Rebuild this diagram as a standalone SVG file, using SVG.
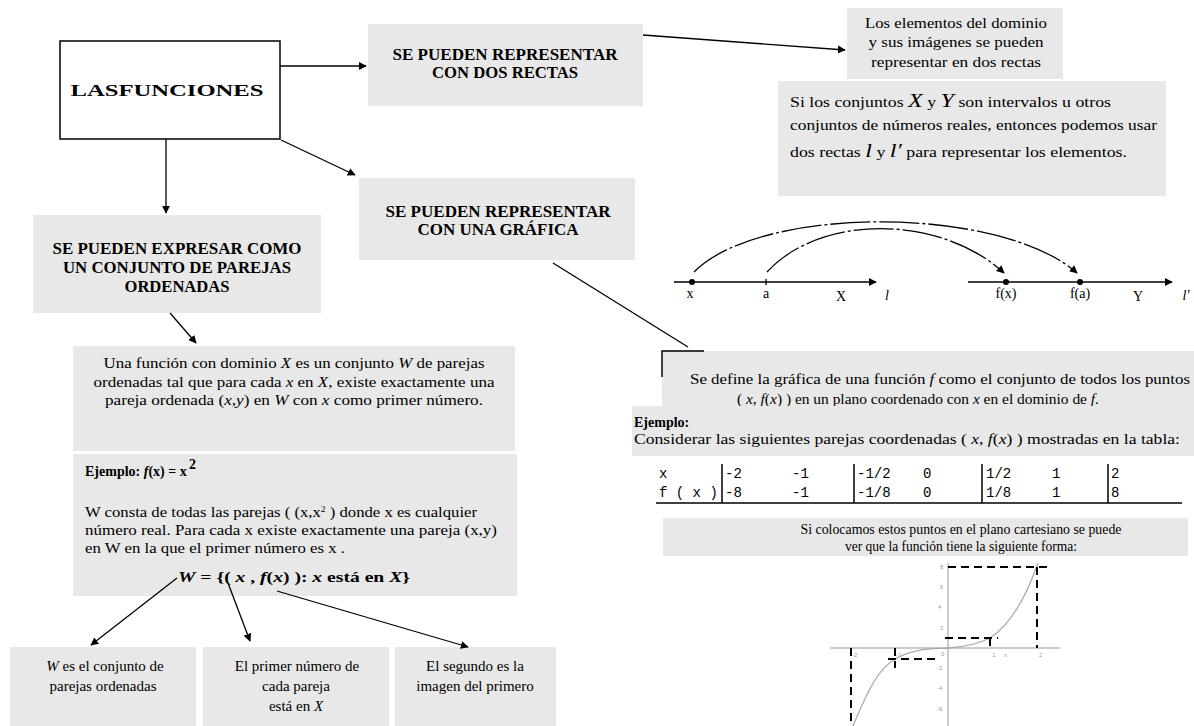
<svg xmlns="http://www.w3.org/2000/svg" width="1194" height="726" viewBox="0 0 1194 726">
<defs>
<style>
.box{fill:#e8e8e8}
.h{font-family:"Liberation Serif",serif;font-weight:bold;font-size:16px;fill:#000}
.t{font-family:"Liberation Serif",serif;font-size:14px;fill:#000}
.b{font-family:"Liberation Serif",serif;font-size:15px;fill:#000}
.m{font-family:"Liberation Mono",monospace;font-size:14px;fill:#000}
.g{font-family:"Liberation Sans",sans-serif;font-size:6px;fill:#999}
.i{font-style:italic}
.c{stroke:#000;stroke-width:1.3;fill:none}
.d{stroke:#000;stroke-width:2;fill:none;stroke-dasharray:8 5}
</style>
<marker id="ah" viewBox="0 0 10 10" refX="9" refY="5" markerWidth="8" markerHeight="8" orient="auto-start-reverse" markerUnits="userSpaceOnUse">
<path d="M0,0 L10,5 L0,10 z" fill="#000"/>
</marker>
</defs>
<rect width="1194" height="726" fill="#fff"/>

<g id="n-funciones">
<rect x="60" y="41" width="220" height="98" fill="#fff" stroke="#000" stroke-width="1.5"/>
<text class="h" x="167" y="96" font-size="26" text-anchor="middle" textLength="193" lengthAdjust="spacingAndGlyphs">LASFUNCIONES</text>
</g>

<g id="n-dosrectas">
<rect class="box" x="368" y="24" width="275" height="82"/>
<text class="h" x="505" y="60" text-anchor="middle" textLength="225" lengthAdjust="spacingAndGlyphs">SE PUEDEN REPRESENTAR</text>
<text class="h" x="505" y="78" text-anchor="middle" textLength="146" lengthAdjust="spacingAndGlyphs">CON DOS RECTAS</text>
</g>

<g id="n-elementos">
<rect class="box" x="847" y="8" width="216" height="71"/>
<text class="t" x="956" y="28" text-anchor="middle" textLength="182" lengthAdjust="spacingAndGlyphs">Los elementos del dominio</text>
<text class="t" x="956" y="47" text-anchor="middle" textLength="175" lengthAdjust="spacingAndGlyphs">y sus imágenes se pueden</text>
<text class="t" x="956" y="67" text-anchor="middle" textLength="170" lengthAdjust="spacingAndGlyphs">representar en dos rectas</text>
</g>

<g id="n-conjuntos">
<rect class="box" x="778" y="81" width="388" height="115"/>
<text class="t" x="790" y="107" textLength="321" lengthAdjust="spacingAndGlyphs">Si los conjuntos <tspan class="i" font-size="19">X</tspan> y <tspan class="i" font-size="19">Y</tspan> son intervalos u otros</text>
<text class="t" x="790" y="130" textLength="367" lengthAdjust="spacingAndGlyphs">conjuntos de números reales, entonces podemos usar</text>
<text class="t" x="790" y="157" textLength="337" lengthAdjust="spacingAndGlyphs">dos rectas <tspan class="i" font-size="19">l</tspan> y <tspan class="i" font-size="19">l′</tspan> para representar los elementos.</text>
</g>

<g id="n-rectas-dibujo">
<line class="c" x1="674" y1="282" x2="876" y2="282" marker-end="url(#ah)"/>
<line class="c" x1="968" y1="282" x2="1172" y2="282" marker-end="url(#ah)"/>
<circle cx="692" cy="282" r="3"/>
<line class="c" x1="766" y1="279" x2="766" y2="285"/>
<circle cx="1006" cy="282" r="3"/>
<circle cx="1080" cy="282" r="3"/>
<text class="t" x="690" y="298" font-size="8" text-anchor="middle">x</text>
<text class="t" x="766" y="298" font-size="8" text-anchor="middle">a</text>
<text class="t" x="841" y="301" text-anchor="middle">X</text>
<text class="t i" x="887" y="300" font-size="16" text-anchor="middle">l</text>
<text class="t" x="1006" y="298" font-size="8" text-anchor="middle">f(x)</text>
<text class="t" x="1080" y="298" font-size="8" text-anchor="middle">f(a)</text>
<text class="t" x="1138" y="301" text-anchor="middle">Y</text>
<text class="t i" x="1186" y="300" font-size="16" text-anchor="middle">l′</text>
<path class="c" d="M694,272 C760,205 1000,205 1077,273" stroke-dasharray="40 3 3 3" marker-end="url(#ah)"/>
<path class="c" d="M767,272 C820,214 940,214 1004,273" stroke-dasharray="40 3 3 3" marker-end="url(#ah)"/>
</g>

<g id="n-expresar">
<rect class="box" x="33" y="215" width="288" height="98"/>
<text class="h" x="177" y="254" text-anchor="middle" textLength="249" lengthAdjust="spacingAndGlyphs">SE PUEDEN EXPRESAR COMO</text>
<text class="h" x="177" y="273" text-anchor="middle" textLength="228" lengthAdjust="spacingAndGlyphs">UN CONJUNTO DE PAREJAS</text>
<text class="h" x="177" y="292" text-anchor="middle" textLength="105" lengthAdjust="spacingAndGlyphs">ORDENADAS</text>
</g>

<g id="n-grafica">
<rect class="box" x="359" y="178" width="276" height="82"/>
<text class="h" x="498" y="217" text-anchor="middle" textLength="225" lengthAdjust="spacingAndGlyphs">SE PUEDEN REPRESENTAR</text>
<text class="h" x="498" y="235" text-anchor="middle" textLength="161" lengthAdjust="spacingAndGlyphs">CON UNA GRÁFICA</text>
</g>

<g id="n-definicion-w">
<rect class="box" x="73" y="346" width="442" height="105"/>
<text class="t" x="294" y="368" text-anchor="middle" textLength="381" lengthAdjust="spacingAndGlyphs">Una función con dominio <tspan class="i">X</tspan> es un conjunto <tspan class="i">W</tspan> de parejas</text>
<text class="t" x="294" y="387" text-anchor="middle" textLength="401" lengthAdjust="spacingAndGlyphs">ordenadas tal que para cada <tspan class="i">x</tspan> en <tspan class="i">X</tspan>, existe exactamente una</text>
<text class="t" x="294" y="405" text-anchor="middle" textLength="378" lengthAdjust="spacingAndGlyphs">pareja ordenada (<tspan class="i">x</tspan>,<tspan class="i">y</tspan>) en <tspan class="i">W</tspan> con <tspan class="i">x</tspan> como primer número.</text>
</g>

<g id="n-ejemplo-w">
<rect class="box" x="73" y="454" width="444" height="142"/>
<text class="t" x="85" y="476" font-size="13" font-weight="bold">Ejemplo: <tspan class="i">f</tspan>(x) =  x</text>
<text class="t" x="189" y="469" font-size="8" font-weight="bold">2</text>
<text class="t" x="85" y="517" textLength="392" lengthAdjust="spacingAndGlyphs">W consta de todas las parejas ( (x,x<tspan font-size="8" dy="-5">2</tspan><tspan dy="5"> ) donde x es cualquier</tspan></text>
<text class="t" x="85" y="535" textLength="412" lengthAdjust="spacingAndGlyphs">número real. Para cada x existe exactamente una pareja (x,y)</text>
<text class="t" x="85" y="553" textLength="260" lengthAdjust="spacingAndGlyphs">en W en la que el primer número es x .</text>
<text class="t" x="178" y="582" font-weight="bold" textLength="232" lengthAdjust="spacingAndGlyphs"><tspan class="i">W</tspan> = {( <tspan class="i">x</tspan> , <tspan class="i">f</tspan>(<tspan class="i">x</tspan>) ): <tspan class="i">x</tspan> está en <tspan class="i">X</tspan>}</text>
</g>

<g id="n-conjunto-parejas">
<rect class="box" x="10" y="647" width="186" height="79"/>
<text class="b" x="105" y="671" text-anchor="middle"><tspan class="i">W</tspan> es el conjunto de</text>
<text class="b" x="103" y="691" text-anchor="middle">parejas ordenadas</text>
</g>

<g id="n-primer-numero">
<rect class="box" x="203" y="647" width="186" height="79"/>
<text class="b" x="297" y="671" text-anchor="middle">El primer número de</text>
<text class="b" x="296" y="691" text-anchor="middle">cada pareja</text>
<text class="b" x="296" y="711" text-anchor="middle">está en <tspan class="i">X</tspan></text>
</g>

<g id="n-segundo">
<rect class="box" x="395" y="647" width="161" height="79"/>
<text class="b" x="475" y="671" text-anchor="middle">El segundo es la</text>
<text class="b" x="475" y="691" text-anchor="middle">imagen del primero</text>
</g>

<g id="n-definicion-grafica">
<rect class="box" x="662" y="351" width="532" height="55"/>
<path d="M662,377 V351 H704" stroke="#000" stroke-width="1.5" fill="none"/>
<text class="t" x="690" y="384" textLength="500" lengthAdjust="spacingAndGlyphs">Se define la gráfica de una función <tspan class="i">f</tspan> como el conjunto de todos los puntos</text>
<text class="t" x="737" y="404" textLength="362" lengthAdjust="spacingAndGlyphs">( <tspan class="i">x</tspan>, <tspan class="i">f</tspan>(<tspan class="i">x</tspan>) ) en un plano coordenado con <tspan class="i">x</tspan> en el dominio de <tspan class="i">f</tspan>.</text>
</g>

<g id="n-ejemplo-tabla">
<rect class="box" x="632" y="406" width="562" height="50"/>
<text class="t" x="634" y="427" font-weight="bold">Ejemplo:</text>
<text class="t" x="634" y="444" textLength="546" lengthAdjust="spacingAndGlyphs">Considerar las siguientes parejas  coordenadas ( <tspan class="i">x</tspan>, <tspan class="i">f</tspan>(<tspan class="i">x</tspan>) ) mostradas en la tabla:</text>
<g class="m">
<text x="659" y="478">x</text>
<text x="659" y="497">f ( x )</text>
<text x="725" y="478">-2</text><text x="725" y="497">-8</text>
<text x="792" y="478">-1</text><text x="792" y="497">-1</text>
<text x="857" y="478">-1/2</text><text x="857" y="497">-1/8</text>
<text x="923" y="478">0</text><text x="923" y="497">0</text>
<text x="986" y="478">1/2</text><text x="986" y="497">1/8</text>
<text x="1052" y="478">1</text><text x="1052" y="497">1</text>
<text x="1111" y="478">2</text><text x="1111" y="497">8</text>
</g>
<g stroke="#000" stroke-width="1.5">
<line x1="656" y1="503" x2="1182" y2="503"/>
<line x1="722" y1="464" x2="722" y2="503"/>
<line x1="854" y1="464" x2="854" y2="503"/>
<line x1="982" y1="464" x2="982" y2="503"/>
<line x1="1108" y1="464" x2="1108" y2="503"/>
</g>
</g>

<g id="n-colocamos">
<rect class="box" x="663" y="518" width="525" height="38"/>
<text class="t" x="961" y="534" text-anchor="middle" textLength="321" lengthAdjust="spacingAndGlyphs">Si colocamos estos puntos en el plano cartesiano se puede</text>
<text class="t" x="961" y="551" text-anchor="middle" textLength="232" lengthAdjust="spacingAndGlyphs">ver que la función tiene la siguiente forma:</text>
</g>

<g id="n-grafica-cubica">
<line x1="830" y1="648" x2="1060" y2="648" stroke="#999" stroke-width="1"/>
<line x1="948" y1="563" x2="948" y2="726" stroke="#999" stroke-width="1"/>
<text class="g" x="940" y="569">8</text>
<text class="g" x="940" y="589">6</text>
<text class="g" x="938" y="609">4</text>
<text class="g" x="940" y="630">2</text>
<text class="g" x="937" y="670">-2</text>
<text class="g" x="937" y="690">-4</text>
<text class="g" x="937" y="711">-6</text>
<text class="g" x="852" y="657">-2</text>
<text class="g" x="896" y="657">-1</text>
<text class="g" x="941" y="656">0</text>
<text class="g" x="992" y="657">1</text>
<text class="g" x="1004" y="657">x</text>
<text class="g" x="1039" y="657">2</text>
<path d="M853,726 C870,685 880,668 895,659 C915,648 930,649 948,648 C965,647 978,644 990,638 C1010,625 1025,600 1038,563" stroke="#aaa" stroke-width="1.3" fill="none"/>
<path class="d" d="M948,567 H1050"/>
<path class="d" d="M1037,567 V648"/>
<path class="d" d="M945,638 H998"/>
<path class="d" d="M990,638 V648"/>
<path class="d" d="M888,659 H940"/>
<path class="d" d="M895,648 V668"/>
<path class="d" d="M851,648 V726"/>
</g>

<g id="connectors">
<line class="c" x1="280" y1="66" x2="366" y2="66" marker-end="url(#ah)"/>
<line class="c" x1="643" y1="35" x2="845" y2="50" marker-end="url(#ah)"/>
<line class="c" x1="166" y1="139" x2="166" y2="213" marker-end="url(#ah)"/>
<line class="c" x1="281" y1="140" x2="355" y2="175" marker-end="url(#ah)"/>
<line class="c" x1="553" y1="263" x2="688" y2="347"/>
<line class="c" x1="170" y1="313" x2="196" y2="343" marker-end="url(#ah)"/>
<line class="c" x1="177" y1="578" x2="91" y2="645" marker-end="url(#ah)"/>
<line class="c" x1="228" y1="583" x2="250" y2="641" marker-end="url(#ah)"/>
<line class="c" x1="277" y1="591" x2="468" y2="647" marker-end="url(#ah)"/>
</g>
</svg>
